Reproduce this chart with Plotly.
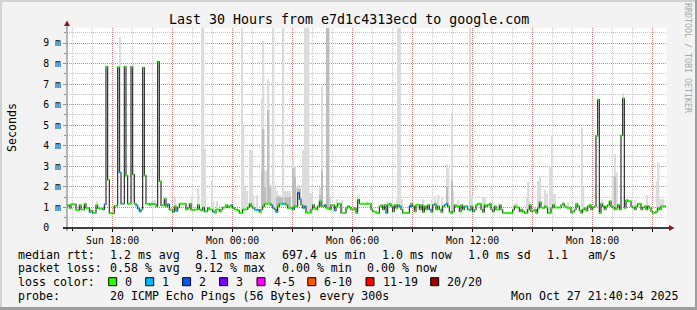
import plotly.graph_objects as go
import pandas as pd

# ---------------- data ----------------
start_time = "2025-10-26 15:40"   # first 5-minute sample
step_minutes = 5

median_ms = [
    1.1, 1.1, 0.97, 1.15, 1.15, 1.15, 0.88, 0.88, 1.12, 0.9,
    0.9, 1.18, 0.97, 0.97, 0.78, 0.85, 0.73, 0.73, 1.12, 0.95,
    0.95, 0.95, 0.9, 1.15, 7.85, 2.35, 0.72, 0.72, 0.72, 1.08,
    1.08, 7.82, 2.7, 1.18, 1.18, 7.85, 2.55, 1.18, 1.18, 7.85,
    2.6, 1.18, 1.1, 0.95, 0.8, 0.9, 7.8, 2.55, 1.18, 1.18,
    1.12, 1.18, 1.15, 1.15, 1.05, 8.1, 2.27, 1.1, 1.1, 1.42,
    1.05, 1.15, 0.9, 0.88, 0.78, 1.05, 0.83, 1.0, 1.18, 1.18,
    1.18, 1.18, 0.9, 0.97, 1.18, 0.88, 0.88, 0.9, 0.9, 1.12,
    0.9, 0.85, 1.0, 0.8, 0.8, 0.97, 0.9, 0.9, 0.8, 0.75,
    0.9, 0.9, 0.8, 0.9, 1.0, 1.0, 1.12, 1.0, 1.05, 1.12,
    0.97, 0.9, 0.9, 0.85, 0.73, 0.73, 0.9, 0.9, 0.9, 1.0,
    1.18, 1.05, 0.97, 0.9, 0.88, 0.88, 0.78, 0.9, 1.05, 1.18,
    1.18, 1.18, 1.18, 1.1, 0.97, 0.9, 0.78, 1.05, 1.18, 1.18,
    1.18, 1.18, 1.12, 0.98, 0.98, 0.97, 0.9, 1.05, 1.05, 1.7,
    1.4, 1.12, 0.97, 1.05, 0.75, 0.75, 0.75, 0.9, 1.12, 0.97,
    0.9, 1.05, 1.3, 1.05, 1.05, 1.12, 0.97, 0.97, 0.9, 1.12,
    1.12, 0.85, 1.05, 1.18, 1.18, 0.73, 0.73, 0.73, 0.97, 1.05,
    1.0, 0.9, 0.9, 0.97, 0.73, 1.38, 1.18, 1.18, 1.18, 1.18,
    1.18, 1.18, 1.18, 0.9, 0.8, 0.8, 0.73, 0.73, 1.05, 1.1,
    0.9, 1.12, 0.73, 1.12, 1.18, 1.05, 0.8, 1.12, 0.97, 1.12,
    1.05, 0.9, 0.73, 0.73, 0.73, 0.73, 1.05, 1.18, 1.05, 0.8,
    1.12, 1.12, 0.9, 1.12, 0.78, 1.05, 0.9, 1.12, 0.9, 0.78,
    1.12, 1.18, 0.9, 1.05, 0.9, 0.78, 1.05, 1.12, 1.18, 1.05,
    0.78, 0.73, 0.8, 1.12, 1.05, 1.05, 0.8, 1.12, 0.9, 1.05,
    1.05, 0.9, 0.88, 1.05, 0.8, 0.9, 1.12, 1.18, 1.18, 0.9,
    0.78, 1.12, 1.05, 1.12, 1.18, 0.9, 0.8, 1.05, 0.9, 0.9,
    1.12, 0.9, 0.73, 0.73, 0.73, 0.73, 0.73, 0.73, 0.88, 1.05,
    1.0, 1.0, 0.8, 0.9, 0.8, 0.73, 0.73, 0.9, 1.12, 0.8,
    0.85, 0.9, 0.73, 0.97, 1.25, 1.0, 0.97, 1.05, 1.0, 0.73,
    0.73, 0.97, 1.12, 1.0, 1.0, 1.0, 1.0, 1.12, 1.18, 1.05,
    1.0, 0.97, 1.0, 0.75, 0.8, 0.9, 1.18, 1.05, 0.85, 0.73,
    0.9, 0.97, 0.85, 1.05, 1.12, 0.9, 1.0, 1.05, 4.48, 6.25,
    0.73, 1.18, 1.05, 0.9, 1.05, 1.12, 1.3, 1.05, 1.0, 0.9,
    0.97, 1.12, 0.9, 4.5, 6.3, 0.97, 1.35, 1.3, 1.3, 1.05,
    1.0, 0.9, 1.05, 1.18, 1.18, 0.9, 1.0, 1.05, 0.9, 1.05,
    0.97, 0.8, 0.73, 0.73, 0.8, 0.97, 0.9, 1.05, 1.05, 1.05,
]

# samples with packet loss (all others lost 0 of 20)
loss1_idx = [14, 22, 23, 32, 33, 42, 43, 44, 51, 61, 66, 83, 88, 99, 113, 114, 115,
             123, 125, 126, 129, 130, 131, 135, 140, 142, 143, 155, 161, 192, 200,
             218, 220, 227, 228, 240, 242]
loss2_idx = [139, 206]

# smoke (spread of the 20 pings): sample index and top of the spread, ms
smoke_idx = [18, 32, 40, 52, 53, 65, 75, 79, 81, 82, 83, 87, 88, 90,
             105, 106, 107, 108, 110, 111, 112, 114, 117, 118, 119, 120, 121, 122, 123,
             124, 125, 126, 127, 128, 130, 131, 132, 133, 134, 136, 137, 138, 139, 140,
             142, 143, 144, 145, 146, 147, 152, 153, 156, 157, 158, 162, 165,
             180, 193, 198, 199, 200, 201, 214, 219, 221, 223, 225, 228, 229, 231, 232,
             235, 242, 243, 250, 251, 269, 270,
             276, 277, 278, 283, 284, 287, 288, 290, 291, 292, 293, 298, 301, 309, 310,
             321, 328, 329, 330, 334, 337, 341, 348, 354, 355, 356, 357, 358]
smoke_top = [1.3, 9.3, 1.3, 1.35, 1.35, 1.55, 1.55, 1.93, 10.5, 10.5, 3.85, 2.3, 1.3, 1.3,
             10.5, 5.0, 2.0, 1.8, 3.8, 3.8, 1.6, 1.6, 6.3, 9.1, 2.8, 2.8, 7.25, 2.1, 2.1,
             10.5, 2.0, 1.8, 1.6, 1.6, 10.5, 1.8, 1.8, 1.8, 1.8, 3.4, 3.0, 2.0, 2.1, 2.0,
             3.8, 10.5, 10.5, 10.5, 1.7, 1.7, 2.0, 6.9, 10.5, 10.5, 1.5, 1.4, 1.35,
             1.3, 1.3, 1.4, 10.5, 10.5, 1.4, 1.4, 1.4, 1.55, 1.6, 1.5, 3.1, 2.9, 5.6, 1.8,
             1.35, 10.5, 1.6, 1.5, 1.5, 1.2, 1.2,
             1.5, 2.25, 1.3, 2.3, 2.48, 1.85, 1.7, 3.0, 4.5, 1.65, 1.65, 1.3, 1.25, 4.9, 2.0,
             1.4, 2.5, 3.6, 2.7, 6.55, 1.4, 1.35, 1.6, 2.26, 3.2, 1.4, 1.4, 1.4]
dense_idx = [117, 118, 119, 121, 122, 126, 127, 128, 129, 131, 132, 133, 134, 136, 137,
             139, 140, 152, 153, 156, 157, 228, 231, 329]
dense_top = [2.8, 4.8, 2.0, 5.74, 2.0, 1.5, 1.5, 1.5, 1.5, 1.5, 1.5, 1.5, 1.5, 2.9, 2.5,
             1.9, 1.9, 1.6, 2.8, 10.5, 10.5, 2.0, 2.3, 2.5]

y_tick_vals = [0, 1, 2, 3, 4, 5, 6, 7, 8, 9]
y_tick_text = ["0\u00a0\u00a0", "1 m", "2 m", "3 m", "4 m", "5 m", "6 m", "7 m", "8 m", "9 m"]
x_tick_vals = ["2025-10-26 18:00", "2025-10-26 21:00", "2025-10-27 00:00", "2025-10-27 03:00",
               "2025-10-27 06:00", "2025-10-27 09:00", "2025-10-27 12:00", "2025-10-27 15:00",
               "2025-10-27 18:00", "2025-10-27 21:00"]
x_tick_text = ["Sun 18:00", "", "Mon 00:00", "", "Mon 06:00", "", "Mon 12:00", "", "Mon 18:00", ""]
x_range = ["2025-10-26 15:43", "2025-10-27 21:43"]

loss_colors = ["#26ff00", "#00b8ff", "#0059ff", "#7e00ff", "#ff00ff", "#ff5500", "#ff0000", "#a10000"]
loss_labels = ["0", "1", "2", "3", "4-5", "6-10", "11-19", "20/20"]

rtt_items = ["median rtt:", "1.2 ms avg", "8.1 ms max", "697.4 us min", "1.0 ms now",
             "1.0 ms sd", "1.1", "am/s"]
loss_items = ["packet loss:", "0.58 % avg", "9.12 % max", "0.00 % min", "0.00 % now"]
probe_text = "20 ICMP Echo Pings (56 Bytes) every 300s"
stamp_text = "Mon Oct 27 21:40:34 2025"
title_text = "Last 30 Hours from e7d1c4313ecd to google.com"

# ---------------- geometry helpers ----------------
W, H = 697, 310
L, R, T, B = 67, 30, 28, 82
PW, PH = W - L - R, H - T - B
FONT = "DejaVu Sans Mono"


def px(x):
    return (x - L) / PW


def py(y):
    return (T + PH - y) / PH


def path(points):
    s = "M " + " L ".join(f"{px(a):.5f},{py(b):.5f}" for a, b in points) + " Z"
    return s


times = pd.date_range(start_time, periods=len(median_ms), freq=f"{step_minutes}min")
step = pd.Timedelta(minutes=step_minutes)

fig = go.Figure()

# smoke
for idx_list, tops, color in ((smoke_idx, smoke_top, "#dcdcdc"), (dense_idx, dense_top, "#bdbdbd")):
    fig.add_trace(go.Bar(
        x=[times[i] + step / 2 for i in idx_list],
        y=[t - median_ms[i] for i, t in zip(idx_list, tops)],
        base=[median_ms[i] for i in idx_list],
        width=step.total_seconds() * 1000,
        marker=dict(color=color, line=dict(width=0)),
        hoverinfo="skip",
    ))

# median line (black step line)
fig.add_trace(go.Scatter(
    x=list(times) + [times[-1] + step],
    y=median_ms + [median_ms[-1]],
    mode="lines", line=dict(color="#202020", width=1.1, shape="hv"),
    hoverinfo="skip",
))

# coloured median boxes by loss class (2 px tall)
loss_of = {i: 1 for i in loss1_idx}
loss_of.update({i: 2 for i in loss2_idx})
for cls in (0, 1, 2):
    xs, ys = [], []
    for i, v in enumerate(median_ms):
        if loss_of.get(i, 0) == cls:
            xs += [times[i], times[i] + step, None]
            ys += [v, v, None]
    fig.add_trace(go.Scatter(x=xs, y=ys, mode="lines",
                             line=dict(color=loss_colors[cls], width=2.0),
                             hoverinfo="skip", connectgaps=False))

shapes = []
# frame of the image
shapes.append(dict(type="rect", xref="paper", yref="paper", x0=px(0), x1=px(W), y0=py(0), y1=py(2),
                   fillcolor="#d2d2d2", line=dict(width=0), layer="above"))
shapes.append(dict(type="rect", xref="paper", yref="paper", x0=px(0), x1=px(2), y0=py(0), y1=py(H),
                   fillcolor="#d2d2d2", line=dict(width=0), layer="above"))
shapes.append(dict(type="rect", xref="paper", yref="paper", x0=px(0), x1=px(W), y0=py(307), y1=py(H),
                   fillcolor="#9e9e9e", line=dict(width=0), layer="above"))
shapes.append(dict(type="rect", xref="paper", yref="paper", x0=px(695), x1=px(W), y0=py(0), y1=py(H),
                   fillcolor="#9e9e9e", line=dict(width=0), layer="above"))
# axes with arrows
shapes.append(dict(type="line", xref="paper", yref="paper", x0=px(67), x1=px(67), y0=py(25), y1=py(231),
                   line=dict(color="#707070", width=1), layer="above"))
shapes.append(dict(type="line", xref="paper", yref="paper", x0=px(63), x1=px(670), y0=py(228), y1=py(228),
                   line=dict(color="#000000", width=1.5), layer="above"))
shapes.append(dict(type="path", xref="paper", yref="paper", path=path([(64, 26), (70, 26), (67, 20.5)]),
                   fillcolor="#8b1a1a", line=dict(width=0), layer="above"))
shapes.append(dict(type="path", xref="paper", yref="paper", path=path([(669, 225), (669, 231), (674.5, 228)]),
                   fillcolor="#8b1a1a", line=dict(width=0), layer="above"))

annotations = []
annotations.append(dict(text=title_text, xref="paper", yref="paper", x=px(348.5), y=py(19),
                        xanchor="center", yanchor="middle", showarrow=False,
                        font=dict(family=FONT, size=13.3, color="#000")))
annotations.append(dict(text="Seconds", xref="paper", yref="paper", x=px(12), y=py(128),
                        xanchor="center", yanchor="middle", showarrow=False, textangle=-90,
                        font=dict(family=FONT, size=11.6, color="#000")))
annotations.append(dict(text="RRDTOOL / TOBI OETIKER", xref="paper", yref="paper", x=px(688), y=py(58),
                        xanchor="center", yanchor="middle", showarrow=False, textangle=90,
                        font=dict(family=FONT, size=8.3, color="#a8a8a8")))

rtt_x = [16, 107.8, 193.5, 279.7, 379.5, 465.5, 544.5, 586]
loss_x = [16, 107.8, 192.9, 279.7, 365.3]
for txt, xx in zip(rtt_items, rtt_x):
    annotations.append(dict(text=txt, xref="paper", yref="paper", x=px(xx), y=py(254.5),
                            xanchor="left", yanchor="middle", showarrow=False,
                            font=dict(family=FONT, size=11.6, color="#000")))
for txt, xx in zip(loss_items, loss_x):
    annotations.append(dict(text=txt, xref="paper", yref="paper", x=px(xx), y=py(268.3),
                            xanchor="left", yanchor="middle", showarrow=False,
                            font=dict(family=FONT, size=11.6, color="#000")))
annotations.append(dict(text="loss color:", xref="paper", yref="paper", x=px(16), y=py(281.7),
                        xanchor="left", yanchor="middle", showarrow=False,
                        font=dict(family=FONT, size=11.6, color="#000")))
box_x = [108.7, 145.7, 182.6, 219.6, 257.0, 307.8, 366.0, 430.7]
for col, lab, bx in zip(loss_colors, loss_labels, box_x):
    shapes.append(dict(type="rect", xref="paper", yref="paper", x0=px(bx), x1=px(bx + 8),
                       y0=py(277.7), y1=py(285.7), fillcolor=col,
                       line=dict(color="#000", width=1), layer="above"))
    annotations.append(dict(text=lab, xref="paper", yref="paper", x=px(bx + 14.5), y=py(281.7),
                            xanchor="left", yanchor="middle", showarrow=False,
                            font=dict(family=FONT, size=11.6, color="#000")))
annotations.append(dict(text="probe:", xref="paper", yref="paper", x=px(16), y=py(296),
                        xanchor="left", yanchor="middle", showarrow=False,
                        font=dict(family=FONT, size=11.6, color="#000")))
annotations.append(dict(text=probe_text, xref="paper", yref="paper", x=px(107.8), y=py(296),
                        xanchor="left", yanchor="middle", showarrow=False,
                        font=dict(family=FONT, size=11.6, color="#000")))
annotations.append(dict(text=stamp_text, xref="paper", yref="paper", x=px(680.5), y=py(296),
                        xanchor="right", yanchor="middle", showarrow=False,
                        font=dict(family=FONT, size=11.6, color="#000")))

RED = "rgba(240,60,60,0.5)"
GRAY = "#c6c6c6"

fig.update_layout(
    width=W, height=H, autosize=False,
    margin=dict(l=L, r=R, t=T, b=B, pad=0),
    paper_bgcolor="#f3f3f3", plot_bgcolor="#ffffff",
    showlegend=False, barmode="overlay",
    shapes=shapes, annotations=annotations,
    xaxis=dict(
        type="date", range=x_range, tickmode="array", tickvals=x_tick_vals, ticktext=x_tick_text,
        showgrid=True, gridcolor=RED, griddash="1px,1px", gridwidth=1,
        ticks="outside", ticklen=3, tickcolor="#000", showline=False, zeroline=False,
        tickfont=dict(family=FONT, size=9.8, color="#000"),
        minor=dict(tickmode="linear", tick0="2025-10-26 00:00", dtick=3600000,
                   showgrid=True, gridcolor=GRAY, griddash="1px,1px", ticks="outside",
                   ticklen=2, tickcolor="#000"),
        fixedrange=True,
    ),
    yaxis=dict(
        range=[0, 9.73], tickmode="array", tickvals=y_tick_vals, ticktext=y_tick_text,
        showgrid=True, gridcolor=RED, griddash="1px,1px", gridwidth=1,
        ticks="outside", ticklen=3, tickcolor="#909090", showline=False, zeroline=False,
        tickfont=dict(family=FONT, size=9.8, color="#000"),
        minor=dict(tickmode="linear", tick0=0, dtick=0.5, showgrid=True, gridcolor=GRAY,
                   griddash="1px,1px", ticks="outside", ticklen=2, tickcolor="#909090"),
        fixedrange=True,
    ),
)

fig.write_html("out.html")
